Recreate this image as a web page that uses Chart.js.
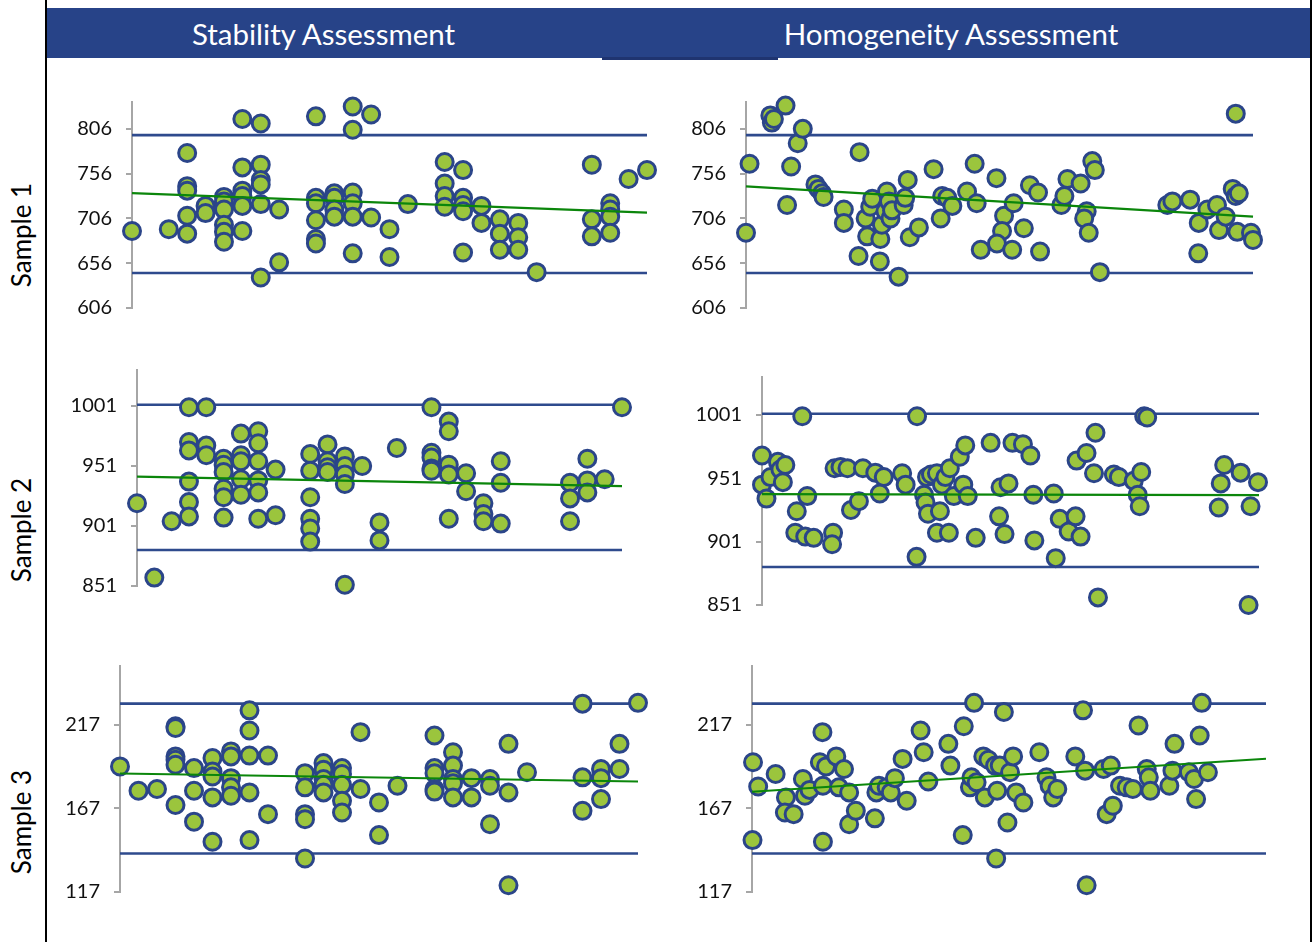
<!DOCTYPE html>
<html><head><meta charset="utf-8">
<script src="https://cdn.jsdelivr.net/npm/chart.js@4.4.0/dist/chart.umd.min.js"></script>
<style>
body{margin:0;background:#fff;width:1313px;height:942px;overflow:hidden;position:relative;font-family:Lato,'Open Sans',sans-serif;}
.abs{position:absolute}
canvas{position:absolute}
#frameL{left:45px;top:0;width:2px;height:942px;background:#000}
#frameR{left:1310px;top:0;width:2px;height:942px;background:#000}
#header{left:47px;top:8px;width:1263px;height:50px;background:#274388}
#notch{left:602px;top:57px;width:176px;height:3px;background:#1f3470}
.htext{top:8px;height:50px;line-height:52px;color:#fff;font-size:29.5px;text-align:center}
.side{width:160px;height:30px;line-height:30px;font-size:26px;text-align:center;color:#000;transform:rotate(-90deg)}
</style>
</head><body>
<div id="frameL" class="abs"></div>
<div id="frameR" class="abs"></div>
<div id="header" class="abs"></div>
<div id="notch" class="abs"></div>
<div class="abs htext" style="left:47px;width:553px">Stability Assessment</div>
<div class="abs htext" style="left:600px;width:702px">Homogeneity Assessment</div>
<div class="abs side" style="left:-59px;top:220px">Sample 1</div>
<div class="abs side" style="left:-59px;top:515px">Sample 2</div>
<div class="abs side" style="left:-59px;top:807px">Sample 3</div>
<script>
// ---- tick labels ----
const ticksS1 = [606, 656, 706, 756, 806];
const ticksS2 = [851, 901, 951, 1001];
const ticksS3 = [117, 167, 217];

// ---- control limits [lower, upper] ----
const limitsS1 = [645, 799];
const limitsS2 = [881, 1002];
const limitsS3 = [140, 229.5];

// ---- trend lines [start, end] ----
const trendStab1 = [734.3, 712.5];
const trendStab2 = [942.1, 934.3];
const trendStab3 = [187.8, 183];
const trendHomog1 = [741.7, 708.1];
const trendHomog2 = [938.6, 937.8];
const trendHomog3 = [176.9, 196.6];

// ---- Stability Sample 1 ----
const stab1X = [0, 2, 3,3,3,3,3, 4,4, 5,5,5,5,5,5, 6,6,6,6,6,6, 7,7,7,7,7,7, 8,8, 10,10,10,10,10,10, 11,11,11,11, 12,12,12,12,12,12, 13,13, 14,14, 15, 17,17,17,17, 18,18,18,18,18, 19,19, 20,20,20, 21,21,21, 22, 25,25,25, 26,26,26,26, 27, 28];
const stab1Y = [692, 694, 779,742,737,709,689, 720,712, 730,725,716,699,691,680, 817,763,737,731,720,692, 812,766,749,744,722,640, 716,657, 820,729,723,704,683,678, 734,729,716,708, 831,805,735,723,708,667, 822,707, 694,663, 722, 769,745,731,719, 760,729,721,714,668, 720,701, 705,689,671, 701,685,671, 646, 766,705,686, 723,716,708,690, 750, 760];

// ---- Stability Sample 2 ----
const stab2X = [0, 1, 2, 3,3,3,3,3,3, 4,4,4, 5,5,5,5,5,5, 6,6,6,6,6, 7,7,7,7,7,7, 8,8, 10,10,10,10,10,10, 11,11,11,11, 12,12,12,12,12, 13, 14,14, 15, 17,17,17,17,17, 18,18,18,18,18, 19,19, 20,20,20, 21,21,21, 25,25,25, 26,26,26, 27, 28];
const stab2Y = [920, 858, 905, 1000,971,964,938,921,909, 1000,968,960, 957,952,946,932,925,908, 978,960,955,940,927, 980,970,955,939,929,907, 948,910, 961,947,925,907,899,888, 969,955,950,946, 959,951,944,936,852, 951, 904,889, 966, 1000,962,958,949,947, 988,980,952,944,907, 945,930, 920,911,905, 955,937,903, 937,924,905, 957,939,929, 940, 1000];

// ---- Stability Sample 3 ----
const stab3X = [0, 1, 2, 3,3,3,3,3,3, 4,4,4, 5,5,5,5,5, 6,6,6,6,6, 7,7,7,7,7, 8,8, 10,10,10,10,10, 11,11,11,11,11, 12,12,12,12,12, 13,13, 14,14, 15, 17,17,17,17,17, 18,18,18,18,18, 19,19, 20,20,20, 21,21,21, 22, 25,25,25, 26,26,26, 27,27, 28];
const stab3Y = [192, 177.5, 178.5, 216,215,198,196,193,169, 191,177.5,159, 197,189,186,173.5,147, 201,198,185,179.5,174.5, 225.5,213.5,198.5,176.5,148, 198.5,163.5, 188,179.5,163.5,160.5,137, 194,190,184.5,181,176.5, 191,187.5,181,171.5,164.5, 212.5,178.5, 170.5,151, 180.5, 210.5,191,188,178.5,177, 200.5,192.5,184.5,182,173.5, 185,173.5, 184.5,180.5,157.5, 205.5,176.5,121, 188.5, 229.5,185.5,165.5, 190.5,185,172.5, 205.5,190.5, 230];

// ---- Homogeneity Sample 1 ----
const homog1X = [0,0.7,4.8,5.1,5.5,7.8,8.1,8.9,10.2,11.2, 13.7,14.3,15.0,15.3,19.3,19.3,22.2,22.4,23.6,23.9, 24.5,24.9,26.5,26.4,26.8,27.5,27.8,28.2,28.5,28.8, 30.1,31.1,31.4,31.9,32.3,34.1,37.0,38.4,38.7,39.7, 40.7,43.6,45.1,45.5,46.3,49.4,50.9,50.5,49.5,52.5, 52.8,54.8,56.0,57.6,58.0,62.2,62.8,63.4,66.0,67.2, 66.7,67.6,68.3,68.8,69.8,83.1,84.1,87.6,89.3,89.2, 91.0,92.9,93.3,94.6,96.0,96.6,97.2,96.6,96.9,99.6, 100];
const homog1Y = [690,767,821,813,817,832,721,764,790,806, 744,739,734,730,716,701,664,780,706,686, 719,728,683,658,699,714,736,725,706,715, 641,721,729,749,685,696,761,706,731,729, 720,736,767,723,671,751,709,692,678,671, 723,695,743,735,669,721,731,750,745,714, 706,690,770,760,646,721,725,727,701,667, 716,721,693,708,739,731,734,823,691,690, 682];

// ---- Homogeneity Sample 2 ----
const homog2X = [0,0,0.9,1.7,3.2,3.7,4.7,4.2,7.0,6.7, 8.1,9.1,8.7,10.4,14.3,14.1,14.6,15.8,17.2,17.9, 19.5,20.3,22.8,24.5,23.7,28.2,28.9,31.2,31.1,32.6, 32.9,33.4,35.2,35.8,33.2,34.0,35.2,36.2,36.9,37.8, 38.6,39.8,40.5,40.9,41.4,37.6,43,46,47.7,48.8, 48.0,49.6,50.4,52.5,54.0,54.6,54.8,58.7,59.1,59.9, 61.7,63.1,64.1,63.3,65.3,67.1,66.8,67.6,70.8,71.8, 74.8,76.3,75.6,76.0,76.9,77.5,91.9,92.3,93.0,96.3, 98.3,99.8,97.9];
const homog2Y = [969,946,935,952,964,958,961.5,948,925,908, 1000,937,905,904,908,899,959,960,959,926, 933,959,955.5,952,939,955,946,1000,889,938, 932,923,908,925,952,954,955,946,952,959, 937,968,946,977,937,908,904,979,921,907, 944,947,979,978,969,938,902,939,888,919, 909,921,905,965,971,987,955,857,954,952, 949,956,938,929,1000,999,928,947,961.5,955.5, 929,948,851];

// ---- Homogeneity Sample 3 ----
const homog3X = [0.2,1.2,0.1,4.6,6.6,6.4,8.1,9.9,10.3,11.2, 13.2,13.7,13.8,14.4,13.8,16.4,16.9,17.9,18.9,18.9, 20.2,23.9,24.2,24.7,26.2,27.0,27.8,29.3,30.1,32.8, 33.4,34.3,38.2,38.6,41,41.2,43.2,42.4,42.7,43.7, 45,45.3,46,47.5,49.0,47.3,48.2,50.2,50.8,47.7, 51.4,52.8,49.7,55.9,57.3,57.9,58.6,59.4,62.9,64.8, 64.4,65.1,68.4,69.8,69.0,70.2,71.6,72.9,74.1,75.2, 76.8,77.2,77.5,81.2,81.8,82.2,85.0,86.0,86.4,87.1, 87.5,88.7];
const homog3Y = [194.5,180,148,187.5,173.5,164.5,163.5,184.5,174.5,178, 194.5,212.5,180.5,192,147,198,179.5,190.5,176.5,157.5, 165.5,161,176.5,180.5,179.5,176.5,185,196.5,171.5,213.5, 200.5,183,205.5,192.5,151,216,230,179.5,185.5,182.5, 198,173.5,196,137,224.5,192.5,192.5,188.5,198,177.5, 176.5,170.5,158.5,200.5,185.5,180.5,173.5,178.5,198,189.5, 225.5,121,190.5,192.5,163.5,168.5,180.5,179.5,178.5,216.5, 190.5,185.5,177.5,180.5,189.5,205.5,188.5,184.5,172.5,210.5, 230,188.5];

const POINT_FILL = '#9BC53D', POINT_EDGE = '#2B4589', LIMIT = '#2E4A8D', TREND = '#0B860B', AXIS = '#A6A6A6';
const AXIS_W = 75, PAD = 14;

function panel(pos, xs, ys, xMax, yMin, yMax, ticks, limits, trend) {
  const c = document.createElement('canvas');
  c.width = pos.w; c.height = pos.h;
  c.style.left = pos.left + 'px'; c.style.top = pos.top + 'px';
  c.style.width = pos.w + 'px'; c.style.height = pos.h + 'px';
  document.body.appendChild(c);
  const pts = xs.map((x, i) => ({x: x, y: ys[i]}));
  const hline = v => [{x: 0, y: v}, {x: xMax, y: v}];
  new Chart(c, {
    type: 'scatter',
    data: {datasets: [
      {data: [{x: 0, y: trend[0]}, {x: xMax, y: trend[1]}], showLine: true, borderColor: TREND, borderWidth: 2.2, pointRadius: 0, clip: false},
      {data: pts, showLine: false, pointRadius: 8.5, pointBorderWidth: 3, pointBackgroundColor: POINT_FILL, pointBorderColor: POINT_EDGE, backgroundColor: POINT_FILL, borderColor: POINT_EDGE, clip: false},
      {data: hline(limits[1]), showLine: true, borderColor: LIMIT, borderWidth: 2.6, pointRadius: 0, clip: false},
      {data: hline(limits[0]), showLine: true, borderColor: LIMIT, borderWidth: 2.6, pointRadius: 0, clip: false}
    ]},
    options: {
      responsive: false, animation: false, events: [],
      layout: {padding: {left: 0, right: PAD, top: PAD, bottom: PAD}},
      plugins: {legend: {display: false}, tooltip: {enabled: false}},
      scales: {
        x: {type: 'linear', min: 0, max: xMax, display: false, ticks: {display: false}},
        y: {type: 'linear', min: yMin, max: yMax,
            afterBuildTicks: s => { s.ticks = ticks.map(v => ({value: v})); },
            afterFit: s => { s.width = AXIS_W; s.paddingTop = 0; s.paddingBottom = 0; },
            border: {display: true, color: AXIS, width: 2},
            grid: {drawOnChartArea: false, drawTicks: true, tickLength: 6, color: AXIS, lineWidth: 2},
            ticks: {padding: 14, color: '#111', font: {family: 'Lato', size: 20}, callback: v => String(v)}}
      }
    }
  });
}

// canvas left = axis x - AXIS_W ; top = plot top - PAD
panel({left: 57, top: 88, w: 604, h: 234}, stab1X, stab1Y, 28, 606, 836, ticksS1, limitsS1, trendStab1);
panel({left: 671, top: 88, w: 596, h: 234}, homog1X, homog1Y, 100, 606, 836, ticksS1, limitsS1, trendHomog1);
panel({left: 62, top: 356, w: 574, h: 244}, stab2X, stab2Y, 28, 851, 1031, ticksS2, limitsS2, trendStab2);
panel({left: 687, top: 363, w: 586, h: 256}, homog2X, homog2Y, 100, 851, 1031, ticksS2, limitsS2, trendHomog2);
panel({left: 45, top: 652, w: 607, h: 254}, stab3X, stab3Y, 28, 117, 252, ticksS3, limitsS3, trendStab3);
panel({left: 677, top: 652, w: 603, h: 254}, homog3X, homog3Y, 100, 117, 252, ticksS3, limitsS3, trendHomog3);
</script>
</body></html>
